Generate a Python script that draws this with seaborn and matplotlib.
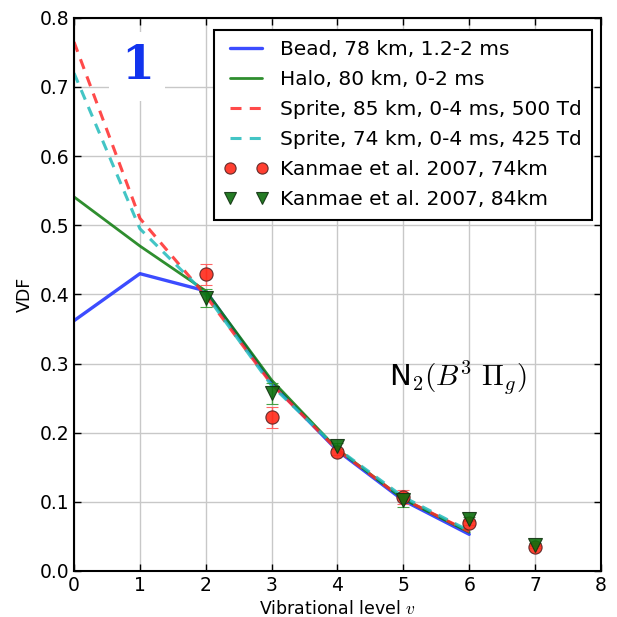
import numpy as np
import pandas as pd
import matplotlib
matplotlib.use("Agg")
import matplotlib.pyplot as plt
import seaborn as sns

# model curves, vibrational levels 0..6
levels = [0, 1, 2, 3, 4, 5, 6]
bead = [0.362, 0.430, 0.405, 0.272, 0.174, 0.102, 0.053]
halo = [0.541, 0.470, 0.405, 0.276, 0.176, 0.104, 0.056]
sprite85 = [0.765, 0.510, 0.398, 0.270, 0.175, 0.104, 0.057]
sprite74 = [0.720, 0.495, 0.400, 0.268, 0.177, 0.107, 0.058]

# Kanmae et al. 2007 observations, levels 2..7
obs_levels = [2, 3, 4, 5, 6, 7]
kan74 = [0.429, 0.222, 0.172, 0.107, 0.070, 0.035]
kan74_err = [0.015, 0.015, 0.004, 0.010, 0.003, 0.002]
kan84 = [0.395, 0.257, 0.181, 0.103, 0.075, 0.038]
kan84_err = [0.013, 0.015, 0.004, 0.010, 0.003, 0.002]

sns.set_style("ticks")
plt.rcParams['font.family'] = ['DejaVu Sans']
plt.rcParams['mathtext.fontset'] = 'cm'
plt.rcParams['xtick.direction'] = 'in'
plt.rcParams['ytick.direction'] = 'in'
plt.rcParams['text.color'] = 'black'
plt.rcParams['axes.labelcolor'] = 'black'
plt.rcParams['xtick.color'] = 'black'
plt.rcParams['ytick.color'] = 'black'

fig = plt.figure(figsize=(6.17, 6.17), dpi=100)
ax = fig.add_axes([0.12, 0.0746, 0.854, 0.8965])

curves = pd.DataFrame({"v": levels * 4,
                       "vdf": bead + halo + sprite85 + sprite74,
                       "run": (["Bead, 78 km, 1.2-2 ms"] * 7 + ["Halo, 80 km, 0-2 ms"] * 7
                               + ["Sprite, 85 km, 0-4 ms, 500 Td"] * 7
                               + ["Sprite, 74 km, 0-4 ms, 425 Td"] * 7)})

styles = {"Bead, 78 km, 1.2-2 ms": ("#1a2cff", "-", 2.4),
          "Halo, 80 km, 0-2 ms": ("#0a7a0a", "-", 2.0),
          "Sprite, 85 km, 0-4 ms, 500 Td": ("#ff2a2a", (0, (3.4, 2.6)), 2.2),
          "Sprite, 74 km, 0-4 ms, 425 Td": ("#22bbbb", (0, (3.4, 2.6)), 2.2)}

for name, sub in curves.groupby("run", sort=False):
    c, ls, lw = styles[name]
    sns.lineplot(data=sub, x="v", y="vdf", ax=ax, color=c, linestyle=ls, lw=lw,
                 label=name, alpha=0.85)

ax.errorbar(obs_levels, kan74, yerr=kan74_err, fmt="o", color="#ff2a1a", ms=9.5,
            mec="#552222", mew=0.8, ecolor="#ff5555", capsize=4, elinewidth=1,
            alpha=0.9, label="Kanmae et al. 2007, 74km")
ax.errorbar(obs_levels, kan84, yerr=kan84_err, fmt="v", color="#0d6e0d", ms=9.5,
            mec="#113311", mew=0.8, ecolor="#339933", capsize=4, elinewidth=1,
            alpha=0.9, label="Kanmae et al. 2007, 84km")

ax.set_xlim(0, 8)
ax.set_ylim(0, 0.8)
ax.set_xticks(range(9))
ax.set_yticks(np.arange(0, 0.81, 0.1))
ax.set_yticklabels([f"{t:.1f}" for t in np.arange(0, 0.81, 0.1)])
ax.tick_params(labelsize=13.5, top=True, right=True, length=5, width=1)
ax.grid(True, color="#c8c8c8", lw=1)
for s in ax.spines.values():
    s.set_linewidth(1.5)
    s.set_color("black")
ax.set_xlabel("Vibrational level $v$", fontsize=12.5)
ax.set_ylabel("VDF", fontsize=12.5)

ax.text(0.96, 0.73, "1", fontsize=34, fontweight="bold", family="serif",
        color="#1133ee", ha="center", va="center",
        bbox=dict(facecolor="white", edgecolor="none", pad=8))
ax.text(5.82, 0.28, r"N$_2$$(B^3\ \Pi_g)$", fontsize=21, ha="center", va="center")

handles, labels = ax.get_legend_handles_labels()
handles = [h[0] if hasattr(h, "lines") else h for h in handles]
leg = ax.legend(handles, labels, loc="upper right", numpoints=2, fontsize=14.5,
                frameon=True, fancybox=False, borderpad=0.5, handlelength=2.2,
                labelspacing=0.55, handletextpad=0.6, markerscale=0.85,
                borderaxespad=0, bbox_to_anchor=(0.983, 0.978))
leg.get_frame().set_edgecolor("black")
leg.get_frame().set_linewidth(1.5)
leg.get_frame().set_alpha(1)
# two clean dashes in the legend handles
for ln in leg.get_lines()[2:4]:
    ln.set_linestyle((0, (3.6, 2.7)))

fig.savefig("out.png", dpi=100)
